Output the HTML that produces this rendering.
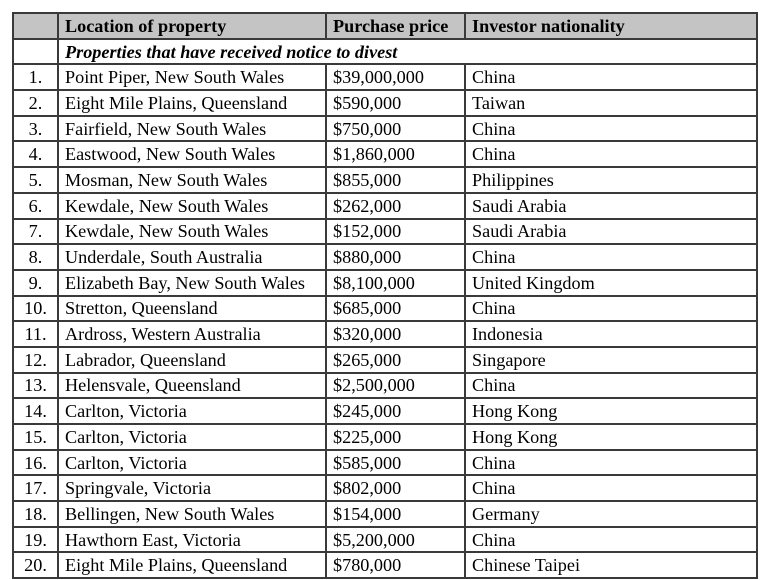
<!DOCTYPE html>
<html><head><meta charset="utf-8"><style>
html,body{margin:0;padding:0;background:#fff;width:769px;height:580px;overflow:hidden}
table{position:absolute;left:12px;top:12px;border-collapse:collapse;font-family:"Liberation Serif",serif;font-size:18.2px;color:#000;table-layout:fixed}
td,th{border:2px solid #3a3a3a;padding:0 6px;height:23.7px;line-height:20px;white-space:nowrap;overflow:hidden;box-sizing:content-box}
th{background:#c4c4c4;text-align:left;font-weight:bold}
td.n{text-align:center;padding:0}
tr.sub td{font-weight:bold;font-style:italic}
</style></head><body>
<table>
<colgroup><col style="width:45px"><col style="width:268px"><col style="width:139px"><col style="width:292px"></colgroup>
<thead><tr><th></th><th>Location of property</th><th>Purchase price</th><th>Investor nationality</th></tr></thead>
<tbody id="tb">
<tr class="sub"><td></td><td colspan="3">Properties that have received notice to divest</td></tr>
</tbody></table>
<script>
const locations=["Point Piper, New South Wales","Eight Mile Plains, Queensland","Fairfield, New South Wales","Eastwood, New South Wales","Mosman, New South Wales","Kewdale, New South Wales","Kewdale, New South Wales","Underdale, South Australia","Elizabeth Bay, New South Wales","Stretton, Queensland","Ardross, Western Australia","Labrador, Queensland","Helensvale, Queensland","Carlton, Victoria","Carlton, Victoria","Carlton, Victoria","Springvale, Victoria","Bellingen, New South Wales","Hawthorn East, Victoria","Eight Mile Plains, Queensland"];
const prices=["$39,000,000","$590,000","$750,000","$1,860,000","$855,000","$262,000","$152,000","$880,000","$8,100,000","$685,000","$320,000","$265,000","$2,500,000","$245,000","$225,000","$585,000","$802,000","$154,000","$5,200,000","$780,000"];
const nations=["China","Taiwan","China","China","Philippines","Saudi Arabia","Saudi Arabia","China","United Kingdom","China","Indonesia","Singapore","China","Hong Kong","Hong Kong","China","China","Germany","China","Chinese Taipei"];
const tb=document.getElementById('tb');
locations.forEach((loc,i)=>{
  const tr=document.createElement('tr');
  
  
  [[(i+1)+'.','row-number'],[loc,'location-cell'],[prices[i],'price-cell'],[nations[i],'nationality-cell']].forEach(([t,n],j)=>{
    const td=document.createElement('td');
    
    
    if(j===0)td.className='n';
    td.textContent=t;tr.appendChild(td);
  });
  tb.appendChild(tr);
});
</script>
</body></html>
